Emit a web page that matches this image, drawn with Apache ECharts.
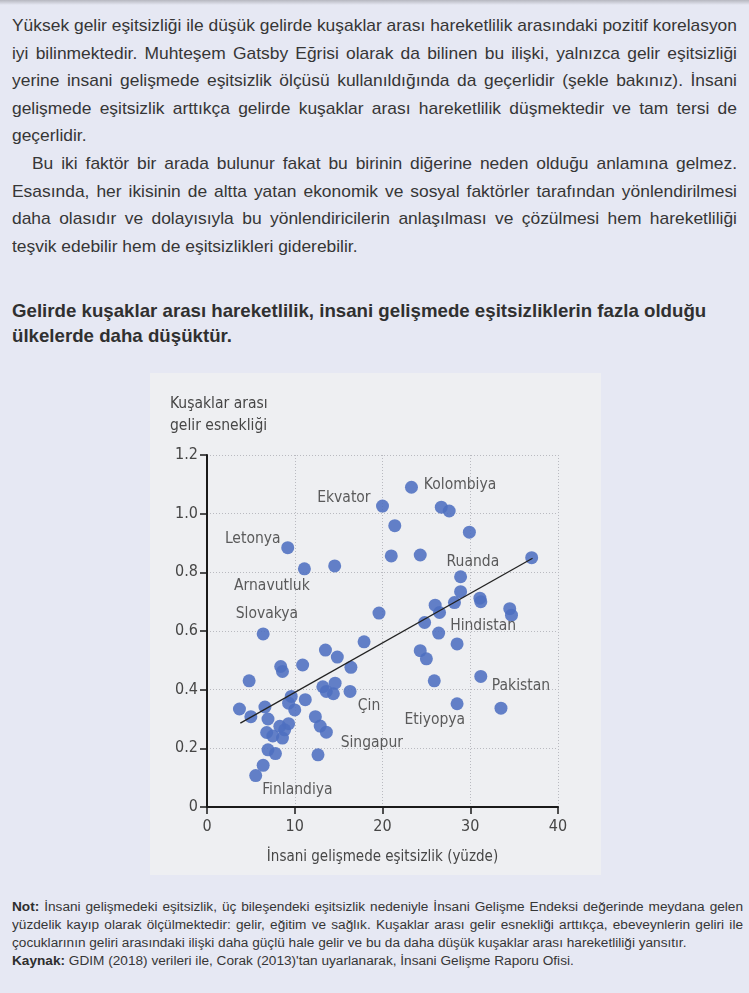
<!DOCTYPE html>
<html><head><meta charset="utf-8">
<script src="https://cdn.jsdelivr.net/npm/echarts@6/dist/echarts.min.js"></script>
<style>
html,body{margin:0;padding:0;}
body{width:749px;height:993px;background:#e6e8f3;position:relative;overflow:hidden;font-family:"Liberation Sans",Arial,sans-serif;color:#363636;}
.topshade{position:absolute;left:0;top:0;width:749px;height:5px;background:linear-gradient(#b6b7bf,#e6e8f3);}
.ln{position:absolute;left:12px;white-space:nowrap;display:inline-block;transform-origin:0 50%;}
.p{font-size:17px;height:28px;line-height:28px;}
.h{font-size:19px;font-weight:bold;height:24px;line-height:24px;color:#303030;}
.f{font-size:12.5px;height:17px;line-height:17px;color:#363636;}
.f b{color:#2e2e2e;}
#chart{position:absolute;left:150px;top:373px;width:451px;height:502px;background:#eeeff2;}
</style>
</head><body>
<div class="topshade"></div>
<div class="ln p" data-j="1" data-w="725" style="top:12px">Yüksek gelir eşitsizliği ile düşük gelirde kuşaklar arası hareketlilik arasındaki pozitif korelasyon</div>
<div class="ln p" data-j="1" data-w="725" style="top:39.5px">iyi bilinmektedir. Muhteşem Gatsby Eğrisi olarak da bilinen bu ilişki, yalnızca gelir eşitsizliği</div>
<div class="ln p" data-j="1" data-w="725" style="top:67px">yerine insani gelişmede eşitsizlik ölçüsü kullanıldığında da geçerlidir (şekle bakınız). İnsani</div>
<div class="ln p" data-j="1" data-w="725" style="top:94.5px">gelişmede eşitsizlik arttıkça gelirde kuşaklar arası hareketlilik düşmektedir ve tam tersi de</div>
<div class="ln p" style="top:122px">geçerlidir.</div>
<div class="ln p" data-j="1" data-w="705" style="top:150px;left:32px">Bu iki faktör bir arada bulunur fakat bu birinin diğerine neden olduğu anlamına gelmez.</div>
<div class="ln p" data-j="1" data-w="725" style="top:177.5px">Esasında, her ikisinin de altta yatan ekonomik ve sosyal faktörler tarafından yönlendirilmesi</div>
<div class="ln p" data-j="1" data-w="725" style="top:205px">daha olasıdır ve dolayısıyla bu yönlendiricilerin anlaşılması ve çözülmesi hem hareketliliği</div>
<div class="ln p" style="top:232.5px">teşvik edebilir hem de eşitsizlikleri giderebilir.</div>

<div class="ln h" data-w="691" style="top:299px">Gelirde kuşaklar arası hareketlilik, insani gelişmede eşitsizliklerin fazla olduğu</div>
<div class="ln h" data-w="221" style="top:324px">ülkelerde daha düşüktür.</div>

<div id="chart"></div>

<div class="ln f" data-j="1" data-w="731" style="top:899px"><b>Not:</b> İnsani gelişmedeki eşitsizlik, üç bileşendeki eşitsizlik nedeniyle İnsani Gelişme Endeksi değerinde meydana gelen</div>
<div class="ln f" data-j="1" data-w="731" style="top:917px">yüzdelik kayıp olarak ölçülmektedir: gelir, eğitim ve sağlık. Kuşaklar arası gelir esnekliği arttıkça, ebeveynlerin geliri ile</div>
<div class="ln f" data-w="685" style="top:935px">çocuklarının geliri arasındaki ilişki daha güçlü hale gelir ve bu da daha düşük kuşaklar arası hareketliliği yansıtır.</div>
<div class="ln f" data-w="553" style="top:953px"><b>Kaynak:</b> GDIM (2018) verileri ile, Corak (2013)'tan uyarlanarak, İnsani Gelişme Raporu Ofisi.</div>

<script>
// ---- data ----
const xs = [23.3, 20.0, 26.7, 27.6, 21.4, 29.9, 21.0, 24.3, 37.0, 9.2,
            11.1, 14.55, 28.9, 28.9, 31.1, 31.2, 26.0, 28.2, 34.5, 34.7,
            26.5, 24.8, 26.4, 28.5, 19.6, 24.3, 25.0, 25.9, 31.2, 28.5,
            33.5, 17.9, 13.5, 14.85, 16.4, 10.9, 8.4, 8.6, 4.8, 6.4,
            13.2, 13.6, 14.6, 14.4, 16.3, 11.2, 9.6, 9.3, 10.0, 3.7,
            5.0, 6.6, 6.95, 12.35, 12.9, 13.6, 6.8, 8.3, 8.85, 8.6,
            9.3, 7.5, 6.95, 7.8, 12.65, 6.4, 5.55];
const ys = [1.09, 1.026, 1.022, 1.009, 0.959, 0.937, 0.856, 0.859, 0.850, 0.884,
            0.812, 0.822, 0.785, 0.734, 0.712, 0.700, 0.688, 0.697, 0.676, 0.654,
            0.663, 0.629, 0.593, 0.556, 0.661, 0.533, 0.505, 0.430, 0.445, 0.352,
            0.337, 0.563, 0.535, 0.511, 0.476, 0.484, 0.479, 0.462, 0.430, 0.590,
            0.410, 0.394, 0.422, 0.386, 0.394, 0.366, 0.377, 0.354, 0.331, 0.334,
            0.308, 0.341, 0.300, 0.308, 0.276, 0.255, 0.254, 0.275, 0.263, 0.235,
            0.284, 0.242, 0.195, 0.182, 0.178, 0.142, 0.107];
const names = ['Kolombiya','Ekvator','','','','','','','','Letonya',
               'Arnavutluk','','Ruanda','','','','','','','',
               '','','Hindistan','','','','','','Pakistan','Etiyopya',
               '','','','','','','','','','Slovakya',
               '','','','','Çin','','','','','',
               '','','','','','Singapur','','','','',
               '','','','','','','Finlandiya'];
const trendX = [3.8, 37.1];
const trendY = [0.286, 0.848];
const xTicks = ['0', '10', '20', '30', '40'];
const yTicks = ['0', '0.2', '0.4', '0.6', '0.8', '1.0', '1.2'];
const yTitle = 'Kuşaklar arası\ngelir esnekliği';
const xTitle = 'İnsani gelişmede eşitsizlik (yüzde)';

// ---- label placement (style) ----
const labelOffsets = {
  'Kolombiya': [48.6, -2], 'Ekvator': [-38.6, -8.3], 'Letonya': [-35, -8.4],
  'Arnavutluk': [-32.5, 16.7], 'Slovakya': [3.7, -19.7], 'Ruanda': [12.3, -14.4],
  'Hindistan': [44.5, -7.3], 'Pakistan': [40.2, 9.3], 'Etiyopya': [-22.3, 16.7],
  'Çin': [19, 15], 'Singapur': [45.5, 10.4], 'Finlandiya': [41.7, 14.7]
};

// condense text groups with one common factor; justified lines stretch word spacing
function fitGroup(sel) {
  const els = [...document.querySelectorAll(sel)];
  const nat = els.map(e => e.getBoundingClientRect().width);
  const ss = []; let maxS = Infinity;
  els.forEach((e, i) => {
    if (!e.dataset.w) return;
    const t = +e.dataset.w;
    if (e.dataset.j) maxS = Math.min(maxS, t / nat[i]); else ss.push(t / nat[i]);
  });
  let s = ss.length ? ss.reduce((a, b) => a + b, 0) / ss.length : maxS;
  s = Math.min(s, maxS);
  els.forEach(e => {
    if (e.dataset.j) {
      e.style.width = (+e.dataset.w / s) + 'px';
      e.style.textAlign = 'justify';
      e.style.textAlignLast = 'justify';
    }
    e.style.transform = 'scaleX(' + s + ')';
  });
}
fitGroup('.ln.p'); fitGroup('.ln.h'); fitGroup('.ln.f');

const chartFont = '"DejaVu Sans Condensed", "Liberation Sans Narrow", sans-serif';
const txtColor = '#464646';
const chart = echarts.init(document.getElementById('chart'));
const pts = xs.map((x, i) => {
  const item = { value: [x, ys[i]] };
  if (names[i]) {
    item.label = {
      show: true, formatter: names[i], position: 'inside',
      offset: labelOffsets[names[i]], color: txtColor,
      fontFamily: chartFont, fontSize: 15.5
    };
  }
  return item;
});
chart.setOption({
  animation: false,
  title: {
    text: yTitle, left: 15, top: 15,
    textStyle: { fontFamily: chartFont, fontSize: 15.5, fontWeight: 'normal', color: txtColor, lineHeight: 22 }
  },
  grid: { left: 57, top: 82, width: 351, height: 352 },
  xAxis: {
    type: 'value', min: 0, max: 40, interval: 10,
    name: xTitle, nameLocation: 'middle', nameGap: 43,
    nameTextStyle: { fontFamily: chartFont, fontSize: 15, color: txtColor },
    axisLine: { lineStyle: { color: '#1a1a1a', width: 2 } },
    axisTick: { show: true, length: 7, lineStyle: { color: '#1a1a1a', width: 1.5 } },
    axisLabel: { margin: 12, fontFamily: chartFont, fontSize: 16, color: txtColor,
      formatter: v => xTicks[Math.round(v / 10)] },
    splitLine: { show: true, lineStyle: { color: '#b9bac0', type: [1, 2], width: 1 } }
  },
  yAxis: {
    type: 'value', min: 0, max: 1.2, interval: 0.2,
    axisLine: { show: true, lineStyle: { color: '#1a1a1a', width: 2 } },
    axisTick: { show: true, length: 7, lineStyle: { color: '#1a1a1a', width: 1.5 } },
    axisLabel: { margin: 9, fontFamily: chartFont, fontSize: 16, color: txtColor,
      formatter: v => yTicks[Math.round(v / 0.2)] },
    splitLine: { show: true, lineStyle: { color: '#b9bac0', type: [1, 2], width: 1 } }
  },
  series: [
    {
      type: 'scatter', symbolSize: 13, z: 2,
      itemStyle: { color: '#4f6fc0', opacity: 0.88 },
      data: pts
    },
    {
      type: 'line', z: 5, symbol: 'none', silent: true,
      lineStyle: { color: '#222', width: 1.3 },
      data: trendX.map((x, i) => [x, trendY[i]])
    }
  ]
});
</script>
</body></html>
